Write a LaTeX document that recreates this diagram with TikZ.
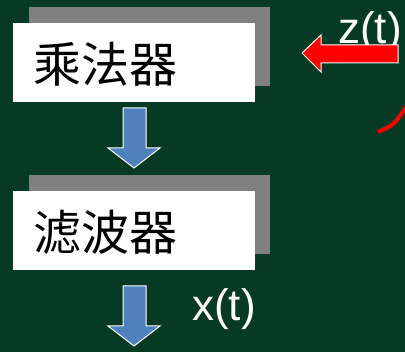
\documentclass[tikz,border=0pt]{standalone}
\usepackage{fontspec}
\setmainfont{Liberation Sans}
\newfontfamily\cjk{Noto Sans CJK SC}
\definecolor{bg}{HTML}{063A24}
\definecolor{shadowgray}{HTML}{808080}
\definecolor{bluearrow}{HTML}{4F81BD}
\begin{document}
\begin{tikzpicture}[x=1pt,y=-1pt,
  shadowbox/.style={fill=shadowgray,draw=none},
  whitebox/.style={fill=white,draw=none},
  cjklabel/.style={font=\cjk\fontsize{48}{52}\selectfont,text=black,anchor=west,inner sep=0pt},
  lbl/.style={font=\fontsize{44}{48}\selectfont,text=white,inner sep=0pt},
  downarrow/.style={fill=bluearrow,draw=white,line width=1pt,line join=miter}]
\fill[bg] (0,0) rectangle (405,352);
\useasboundingbox (0,0) rectangle (405,352);
% box 1
\fill[shadowbox] (29,7) rectangle (270,86);
\fill[whitebox] (13,23) rectangle (255,102);
\node[cjklabel] (mul) at (33,64) {乘法器};
% box 2
\fill[shadowbox] (29,175) rectangle (270,254);
\fill[whitebox] (13,191) rectangle (255,270);
\node[cjklabel] (flt) at (33,232) {滤波器};
% blue arrows
\draw[downarrow] (123,108) -- (146,108) -- (146,148) -- (160,148) -- (134,168) -- (108,148) -- (123,148) -- cycle;
\draw[downarrow] (123,286) -- (146,286) -- (146,326) -- (160,326) -- (134,346) -- (108,326) -- (123,326) -- cycle;
\node[lbl,anchor=base west] (x) at (192,321) {x(t)};
% red arrow
\node[lbl,anchor=base west] (z) at (338,44) {z(t)};
\draw[fill=red,draw=white,line width=1pt,line join=miter] (398,45) -- (321,45) -- (321,35) -- (302,53) -- (321,72) -- (321,63) -- (398,63) -- cycle;
% red arc
\draw[red,line width=4pt] (378,132) .. controls (394,125) .. (408,104);
\end{tikzpicture}
\end{document}
